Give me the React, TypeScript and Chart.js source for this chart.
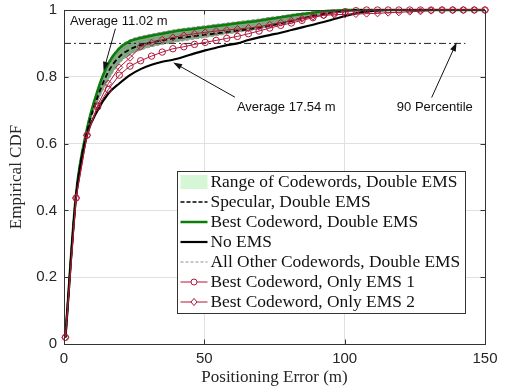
import React, { useEffect, useRef } from 'react';
import { Chart, registerables } from 'chart.js';

Chart.register(...registerables);

// ---------- data ----------
const X = [0.5, 4.3, 8.2, 12, 15.8, 19.7, 23.5, 27.3, 31.2, 35, 38.8, 42.7, 46.5, 50.3, 54.2, 58, 61.8, 65.7, 69.5, 73.3,
  77.2, 81, 84.8, 88.7, 92.5, 96.3, 100.2, 104, 107.8, 111.7, 115.5, 119.3, 123.2, 127, 130.8, 134.7, 138.5, 142.3, 146.2, 150];

const NO_EMS = [0.02, 0.44, 0.625, 0.7, 0.75, 0.78, 0.805, 0.823, 0.836, 0.845, 0.851, 0.86, 0.87, 0.879, 0.887, 0.895, 0.9, 0.91, 0.918, 0.925,
  0.932, 0.94, 0.948, 0.956, 0.964, 0.973, 0.982, 0.99, 0.995, 0.998, 1, 1, 1, 1, 1, 1, 1, 1, 1, 1];

const BEST_DOUBLE = [0.02, 0.45, 0.645, 0.76, 0.84, 0.885, 0.907, 0.916, 0.923, 0.929, 0.935, 0.94, 0.944, 0.948, 0.952, 0.956, 0.96, 0.964, 0.968, 0.973,
  0.978, 0.983, 0.988, 0.992, 0.996, 0.998, 1, 1, 1, 1, 1, 1, 1, 1, 1, 1, 1, 1, 1, 1];

const SPECULAR_DOUBLE = [0.02, 0.445, 0.635, 0.74, 0.815, 0.86, 0.882, 0.895, 0.903, 0.909, 0.914, 0.918, 0.922, 0.926, 0.93, 0.934, 0.938, 0.942, 0.947, 0.953,
  0.96, 0.967, 0.975, 0.982, 0.988, 0.993, 0.997, 1, 1, 1, 1, 1, 1, 1, 1, 1, 1, 1, 1, 1];

const RANGE_LOW = [0.02, 0.44, 0.63, 0.725, 0.79, 0.84, 0.866, 0.88, 0.89, 0.897, 0.903, 0.908, 0.913, 0.918, 0.923, 0.928, 0.933, 0.938, 0.943, 0.95,
  0.957, 0.965, 0.973, 0.98, 0.986, 0.991, 0.995, 0.998, 1, 1, 1, 1, 1, 1, 1, 1, 1, 1, 1, 1];

const RANGE_HIGH = [0.02, 0.452, 0.648, 0.763, 0.844, 0.889, 0.911, 0.921, 0.928, 0.934, 0.94, 0.945, 0.949, 0.953, 0.957, 0.961, 0.965, 0.969, 0.973, 0.978,
  0.982, 0.987, 0.991, 0.995, 0.998, 1, 1, 1, 1, 1, 1, 1, 1, 1, 1, 1, 1, 1, 1, 1];

const OTHER_A = [0.02, 0.447, 0.64, 0.75, 0.83, 0.873, 0.895, 0.906, 0.913, 0.919, 0.925, 0.93, 0.934, 0.938, 0.942, 0.946, 0.95, 0.954, 0.958, 0.964,
  0.97, 0.976, 0.982, 0.987, 0.992, 0.996, 0.999, 1, 1, 1, 1, 1, 1, 1, 1, 1, 1, 1, 1, 1];

const OTHER_B = [0.02, 0.442, 0.632, 0.73, 0.8, 0.848, 0.873, 0.886, 0.895, 0.902, 0.908, 0.913, 0.917, 0.921, 0.926, 0.931, 0.935, 0.94, 0.945, 0.951,
  0.958, 0.966, 0.974, 0.981, 0.987, 0.992, 0.996, 0.999, 1, 1, 1, 1, 1, 1, 1, 1, 1, 1, 1, 1];

const BEST_EMS1 = [0.02, 0.437, 0.625, 0.71, 0.762, 0.805, 0.832, 0.848, 0.862, 0.874, 0.884, 0.89, 0.897, 0.903, 0.909, 0.915, 0.921, 0.929, 0.937, 0.946,
  0.954, 0.961, 0.969, 0.977, 0.985, 0.991, 0.995, 0.998, 1, 1, 1, 1, 1, 1, 1, 1, 1, 1, 1, 1];

const BEST_EMS2 = [0.02, 0.437, 0.625, 0.715, 0.78, 0.828, 0.857, 0.89, 0.902, 0.911, 0.918, 0.924, 0.929, 0.933, 0.937, 0.94, 0.943, 0.946, 0.95, 0.956,
  0.962, 0.968, 0.974, 0.98, 0.984, 0.986, 0.987, 0.988, 0.989, 0.99, 0.992, 0.993, 0.995, 0.996, 0.998, 1, 1, 1, 1, 1];

const PERCENTILE_X = [0, 143];
const PERCENTILE_Y = [0.9, 0.9];

const X_TICKS = [0, 50, 100, 150];
const Y_TICKS = [0, 0.2, 0.4, 0.6, 0.8, 1];
const Y_TICK_LABELS = ['0', '0.2', '0.4', '0.6', '0.8', '1'];

const LEGEND_LABELS = [
  'Range of Codewords, Double EMS',
  'Specular, Double EMS',
  'Best Codeword, Double EMS',
  'No EMS',
  'All Other Codewords, Double EMS',
  'Best Codeword, Only EMS 1',
  'Best Codeword, Only EMS 2',
];

const ANNOTATIONS = [
  { text: 'Average 11.02 m', tx: 2.1, ty: 0.965, from: [18.3, 0.944], to: [14.1, 0.818] },
  { text: 'Average 17.54 m', tx: 61.6, ty: 0.709, from: [60.9, 0.739], to: [38.9, 0.843] },
  { text: '90 Percentile', tx: 118.6, ty: 0.709, from: [131, 0.738], to: [139.9, 0.903] },
];

// ---------- styles ----------
const RED = '#b0173a';
const GREEN = '#0a7d0a';
const BAND = '#7fac80';
const BAND_LEGEND = '#d5f7d5';
const GRAY = '#8f8f8f';
const AXIS = '#333333';
const SERIF = '"Liberation Serif", "Times New Roman", serif';
const SANS = '"Liberation Sans", Arial, sans-serif';

const pts = (ys: number[]) => ys.map((y, i) => ({ x: X[i], y }));

function arrow(ctx: CanvasRenderingContext2D, x1: number, y1: number, x2: number, y2: number) {
  const ang = Math.atan2(y2 - y1, x2 - x1);
  const len = 9, hw = 3;
  ctx.beginPath();
  ctx.moveTo(x1, y1);
  ctx.lineTo(x2 - Math.cos(ang) * len * 0.8, y2 - Math.sin(ang) * len * 0.8);
  ctx.stroke();
  ctx.beginPath();
  ctx.moveTo(x2, y2);
  ctx.lineTo(x2 - Math.cos(ang) * len - Math.sin(ang) * hw, y2 - Math.sin(ang) * len + Math.cos(ang) * hw);
  ctx.lineTo(x2 - Math.cos(ang) * len + Math.sin(ang) * hw, y2 - Math.sin(ang) * len - Math.cos(ang) * hw);
  ctx.closePath();
  ctx.fill();
}

const overlayPlugin = {
  id: 'overlay',
  afterDatasetsDraw(chart: any) {
    const { ctx, chartArea: ca, scales } = chart;
    const xs = scales.x, ys = scales.y;
    ctx.save();
    // frame
    ctx.strokeStyle = AXIS;
    ctx.lineWidth = 1;
    ctx.setLineDash([]);
    ctx.strokeRect(Math.round(ca.left) + 0.5, Math.round(ca.top) + 0.5, Math.round(ca.right - ca.left), Math.round(ca.bottom - ca.top));
    // inner ticks
    const tl = 4.5;
    ctx.beginPath();
    Y_TICKS.forEach((v) => {
      const py = Math.round(ys.getPixelForValue(v)) + 0.5;
      ctx.moveTo(ca.left, py); ctx.lineTo(ca.left + tl, py);
      ctx.moveTo(ca.right, py); ctx.lineTo(ca.right - tl, py);
    });
    X_TICKS.forEach((v) => {
      const px = Math.round(xs.getPixelForValue(v)) + 0.5;
      ctx.moveTo(px, ca.bottom); ctx.lineTo(px, ca.bottom - tl);
      ctx.moveTo(px, ca.top); ctx.lineTo(px, ca.top + tl);
    });
    ctx.stroke();

    // annotations
    ctx.fillStyle = '#111';
    ctx.strokeStyle = '#111';
    ctx.lineWidth = 1;
    ctx.font = `13px ${SANS}`;
    ctx.textBaseline = 'middle';
    ctx.textAlign = 'left';
    ANNOTATIONS.forEach((a) => {
      ctx.fillText(a.text, xs.getPixelForValue(a.tx), ys.getPixelForValue(a.ty));
      arrow(ctx, xs.getPixelForValue(a.from[0]), ys.getPixelForValue(a.from[1]),
        xs.getPixelForValue(a.to[0]), ys.getPixelForValue(a.to[1]));
    });

    // legend
    const L = Math.round(ca.left + 113) + 0.5;
    const T = Math.round(ca.top + 161) + 0.5;
    const W = 288, H = 142;
    ctx.fillStyle = '#fff';
    ctx.fillRect(L, T, W, H);
    ctx.strokeStyle = AXIS;
    ctx.lineWidth = 1;
    ctx.strokeRect(L, T, W, H);
    ctx.font = `17.4px ${SERIF}`;
    ctx.textBaseline = 'middle';
    LEGEND_LABELS.forEach((lab, i) => {
      const cy = T + 10.5 + 20 * i;
      const x0 = L + 3, x1 = L + 30, xm = (x0 + x1) / 2;
      ctx.save();
      if (i === 0) {
        ctx.fillStyle = BAND_LEGEND;
        ctx.fillRect(x0, cy - 7, x1 - x0, 14);
      } else {
        const styles: any = {
          1: { c: '#000', w: 1.6, d: [4, 2] },
          2: { c: GREEN, w: 2.5, d: [] },
          3: { c: '#000', w: 2.2, d: [] },
          4: { c: GRAY, w: 1, d: [3, 2] },
          5: { c: RED, w: 1, d: [] },
          6: { c: RED, w: 1, d: [] },
        };
        const s = styles[i];
        ctx.strokeStyle = s.c;
        ctx.lineWidth = s.w;
        ctx.setLineDash(s.d);
        ctx.beginPath();
        ctx.moveTo(x0, cy); ctx.lineTo(x1, cy);
        ctx.stroke();
        ctx.setLineDash([]);
        if (i === 5) {
          ctx.fillStyle = '#fff';
          ctx.beginPath(); ctx.arc(xm, cy, 3, 0, Math.PI * 2); ctx.fill(); ctx.stroke();
        }
        if (i === 6) {
          ctx.fillStyle = '#fff';
          ctx.beginPath();
          ctx.moveTo(xm, cy - 3.6); ctx.lineTo(xm + 3, cy); ctx.lineTo(xm, cy + 3.6); ctx.lineTo(xm - 3, cy);
          ctx.closePath(); ctx.fill(); ctx.stroke();
        }
      }
      ctx.restore();
      ctx.fillStyle = '#111';
      ctx.fillText(lab, L + 33, cy + 0.5);
    });
    ctx.restore();
  },
};

export default function App() {
  const ref = useRef<HTMLCanvasElement | null>(null);

  useEffect(() => {
    if (!ref.current) return;
    const line = (extra: any) => ({
      pointRadius: 0,
      pointHoverRadius: 0,
      fill: false,
      clip: false,
      ...extra,
    });
    const chart = new Chart(ref.current, {
      type: 'line',
      data: {
        datasets: [
          line({ label: 'rangeLow', data: pts(RANGE_LOW), borderColor: GRAY, borderWidth: 1, borderDash: [3, 2], cubicInterpolationMode: 'monotone', order: 9 }),
          line({ label: LEGEND_LABELS[0], data: pts(RANGE_HIGH), borderColor: GRAY, borderWidth: 1, borderDash: [3, 2], backgroundColor: BAND, fill: '-1', cubicInterpolationMode: 'monotone', order: 8 }),
          line({ label: LEGEND_LABELS[4], data: pts(OTHER_A), borderColor: GRAY, borderWidth: 1, borderDash: [3, 2], cubicInterpolationMode: 'monotone', order: 7 }),
          line({ label: 'otherB', data: pts(OTHER_B), borderColor: GRAY, borderWidth: 1, borderDash: [3, 2], cubicInterpolationMode: 'monotone', order: 7 }),
          line({ label: 'p90', data: PERCENTILE_X.map((x, i) => ({ x, y: PERCENTILE_Y[i] })), borderColor: '#222', borderWidth: 1, borderDash: [7, 3, 2, 3], order: 6 }),
          line({ label: LEGEND_LABELS[2], data: pts(BEST_DOUBLE), borderColor: GREEN, borderWidth: 2.5, cubicInterpolationMode: 'monotone', order: 5 }),
          line({ label: LEGEND_LABELS[3], data: pts(NO_EMS), borderColor: '#000', borderWidth: 2.2, cubicInterpolationMode: 'monotone', order: 4 }),
          line({ label: LEGEND_LABELS[1], data: pts(SPECULAR_DOUBLE), borderColor: '#000', borderWidth: 1.8, borderDash: [5, 3], cubicInterpolationMode: 'monotone', order: 3 }),
          line({ label: LEGEND_LABELS[5], data: pts(BEST_EMS1), borderColor: RED, borderWidth: 1, pointRadius: 3.2, pointStyle: 'circle', pointBorderColor: RED, pointBackgroundColor: 'rgba(255,255,255,0)', pointBorderWidth: 1, order: 2 }),
          line({ label: LEGEND_LABELS[6], data: pts(BEST_EMS2), borderColor: RED, borderWidth: 1, pointRadius: 3.5, pointStyle: 'rectRot', pointBorderColor: RED, pointBackgroundColor: 'rgba(255,255,255,0)', pointBorderWidth: 1, order: 1 }),
        ],
      },
      options: {
        animation: false,
        responsive: false,
        maintainAspectRatio: false,
        events: [],
        layout: { padding: { top: 10, right: 25, bottom: 0, left: 0 } },
        plugins: { legend: { display: false }, tooltip: { enabled: false } },
        scales: {
          x: {
            type: 'linear',
            min: 0,
            max: 150,
            afterFit: (s: any) => { s.height = 44; s.paddingLeft = 0; s.paddingRight = 0; },
            afterBuildTicks: (s: any) => { s.ticks = X_TICKS.map((v) => ({ value: v })); },
            grid: { color: '#e0e0e0', drawTicks: false, lineWidth: 1 },
            border: { display: false },
            ticks: { color: '#262626', font: { family: SANS, size: 15 }, padding: 6, maxRotation: 0, callback: (v: any) => String(v) },
            title: { display: true, text: 'Positioning Error (m)', color: '#262626', font: { family: SERIF, size: 17 }, padding: { top: 0, bottom: 0 } },
          },
          y: {
            type: 'linear',
            min: 0,
            max: 1,
            afterFit: (s: any) => { s.width = 64; s.paddingTop = 0; s.paddingBottom = 0; },
            afterBuildTicks: (s: any) => { s.ticks = Y_TICKS.map((v) => ({ value: v })); },
            grid: { color: '#e0e0e0', drawTicks: false, lineWidth: 1 },
            border: { display: false },
            ticks: { color: '#262626', font: { family: SANS, size: 15 }, padding: 7, callback: (_v: any, i: number) => Y_TICK_LABELS[i] },
            title: { display: true, text: 'Empirical CDF', color: '#262626', font: { family: SERIF, size: 17 }, padding: { top: 6, bottom: 0 } },
          },
        },
      },
      plugins: [overlayPlugin],
    } as any);
    return () => chart.destroy();
  }, []);

  return (
    <div style={{ position: 'absolute', left: 0, top: 0, width: 510, height: 388, background: '#fff' }}>
      <canvas ref={ref} width={510} height={388} style={{ display: 'block' }} />
    </div>
  );
}
